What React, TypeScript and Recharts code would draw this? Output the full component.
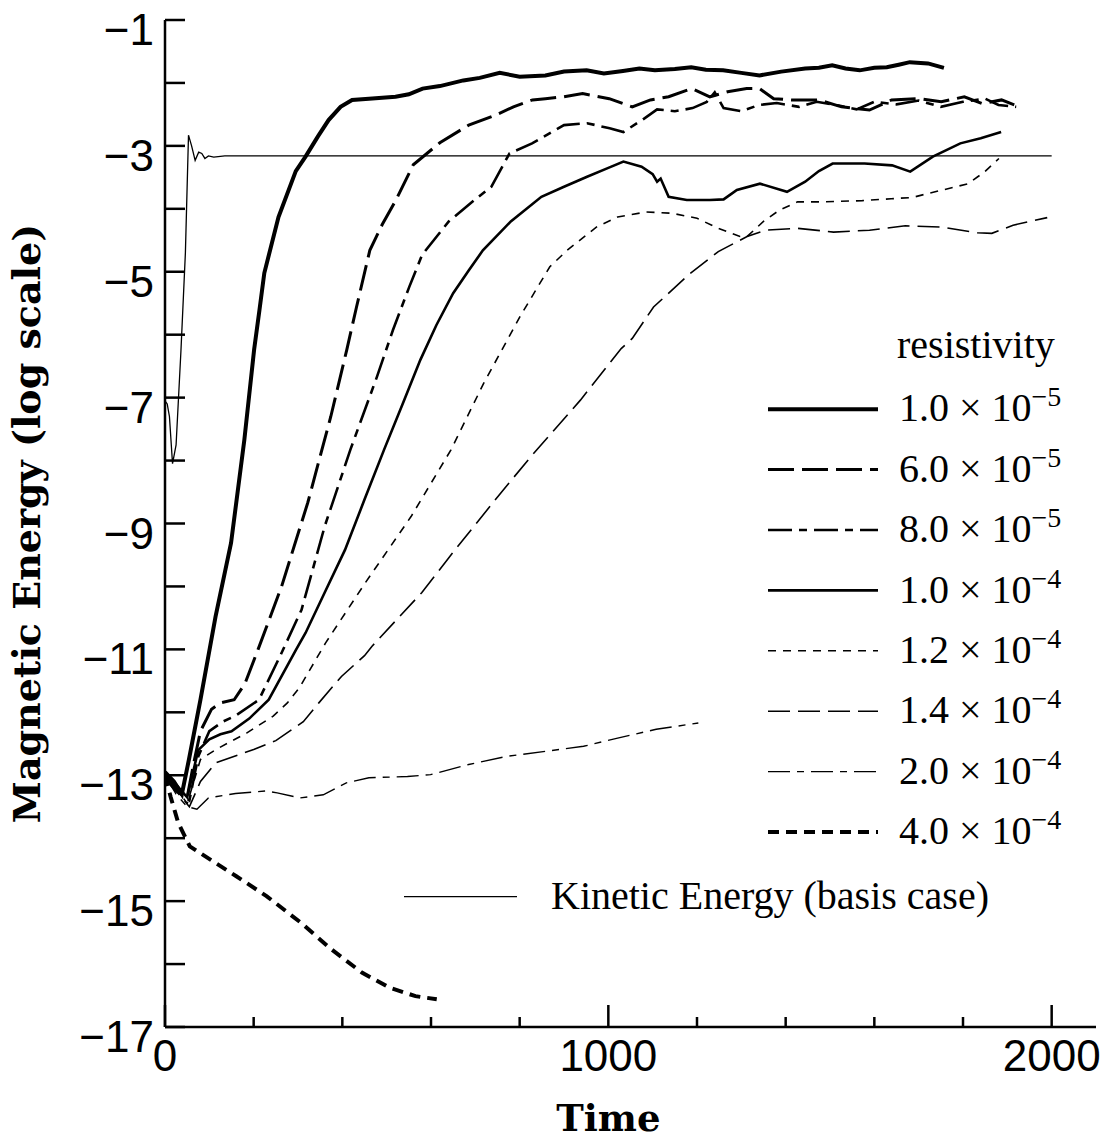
import React from 'react';
import { LineChart, Line, XAxis, YAxis, Legend } from 'recharts';

// ---------- data (time, log10 energy) ----------
const t1 = [0, 20, 38, 54, 80, 114, 149, 179, 201, 213, 224, 256, 295, 317, 345, 369, 396, 422, 460, 520, 550, 581, 620, 673, 710, 755, 800, 858, 900, 951, 990, 1033, 1070, 1105, 1150, 1187, 1220, 1259, 1300, 1341, 1390, 1444, 1475, 1505, 1535, 1567, 1600, 1628, 1655, 1680, 1721, 1757];
const v1 = [-12.95, -13.1, -13.3, -12.75, -11.8, -10.48, -9.31, -7.67, -6.24, -5.61, -5.02, -4.13, -3.4, -3.17, -2.85, -2.59, -2.38, -2.27, -2.25, -2.22, -2.18, -2.09, -2.05, -1.96, -1.92, -1.84, -1.9, -1.88, -1.82, -1.8, -1.85, -1.81, -1.77, -1.8, -1.78, -1.75, -1.79, -1.8, -1.84, -1.88, -1.82, -1.77, -1.76, -1.72, -1.77, -1.8, -1.76, -1.75, -1.71, -1.67, -1.69, -1.76];

const t2 = [0, 25, 50, 65, 80, 105, 125, 156, 180, 210, 263, 322, 374, 410, 432, 462, 490, 521, 560, 620, 685, 746, 786, 829, 858, 899, 942, 1002, 1054, 1095, 1136, 1188, 1229, 1269, 1312, 1341, 1373, 1413, 1475, 1526, 1589, 1639, 1702, 1751, 1803, 1844, 1887, 1916];
const v2 = [-13.0, -13.2, -13.35, -12.8, -12.3, -11.95, -11.85, -11.8, -11.55, -11.0, -10.0, -8.67, -7.3, -6.24, -5.56, -4.66, -4.25, -3.86, -3.3, -2.95, -2.67, -2.51, -2.38, -2.27, -2.25, -2.22, -2.17, -2.25, -2.38, -2.27, -2.22, -2.09, -2.22, -2.14, -2.09, -2.09, -2.25, -2.27, -2.27, -2.38, -2.43, -2.27, -2.25, -2.3, -2.22, -2.33, -2.27, -2.35];

const t3 = [0, 25, 55, 75, 100, 130, 160, 212, 260, 308, 360, 418, 478, 514, 551, 580, 640, 700, 736, 777, 828, 900, 952, 1003, 1034, 1080, 1110, 1150, 1190, 1222, 1240, 1260, 1300, 1340, 1380, 1430, 1470, 1520, 1560, 1600, 1650, 1700, 1750, 1800, 1850, 1880, 1920];
const v3 = [-13.05, -13.25, -13.4, -12.7, -12.3, -12.15, -12.05, -11.8, -11.1, -10.37, -9.05, -7.83, -6.67, -5.93, -5.24, -4.73, -4.2, -3.85, -3.65, -3.12, -2.96, -2.67, -2.64, -2.72, -2.78, -2.57, -2.42, -2.45, -2.4, -2.3, -2.15, -2.4, -2.45, -2.35, -2.32, -2.38, -2.3, -2.36, -2.42, -2.3, -2.34, -2.28, -2.38, -2.3, -2.25, -2.35, -2.38];

const t4 = [0, 25, 50, 75, 100, 125, 150, 190, 234, 296, 317, 360, 406, 450, 494, 536, 576, 612, 650, 685, 717, 780, 849, 900, 952, 1000, 1034, 1075, 1100, 1110, 1118, 1136, 1177, 1229, 1260, 1290, 1342, 1403, 1444, 1475, 1506, 1578, 1640, 1681, 1732, 1794, 1840, 1886];
const v4 = [-12.95, -13.15, -13.35, -12.6, -12.43, -12.35, -12.3, -12.1, -11.8, -11.0, -10.74, -10.1, -9.42, -8.62, -7.83, -7.1, -6.4, -5.85, -5.34, -4.98, -4.66, -4.2, -3.81, -3.65, -3.49, -3.35, -3.25, -3.33, -3.45, -3.57, -3.52, -3.81, -3.86, -3.86, -3.85, -3.7, -3.6, -3.73, -3.57, -3.4, -3.28, -3.28, -3.31, -3.41, -3.17, -2.96, -2.88, -2.78];

const t5 = [0, 25, 50, 80, 115, 184, 244, 276, 304, 362, 451, 555, 645, 719, 801, 868, 907, 973, 1021, 1086, 1143, 1200, 1248, 1297, 1313, 1350, 1386, 1427, 1484, 1573, 1638, 1686, 1719, 1784, 1812, 1849, 1881];
const v5 = [-13.0, -13.2, -13.45, -12.75, -12.59, -12.33, -12.06, -11.85, -11.6, -10.9, -9.95, -8.89, -7.83, -6.77, -5.71, -4.92, -4.66, -4.29, -4.13, -4.05, -4.07, -4.15, -4.31, -4.44, -4.44, -4.2, -4.02, -3.89, -3.89, -3.87, -3.84, -3.82, -3.76, -3.65, -3.6, -3.41, -3.2];

const t6 = [0, 25, 55, 80, 115, 200, 250, 312, 347, 398, 450, 467, 579, 654, 751, 825, 937, 1029, 1054, 1102, 1184, 1248, 1313, 1354, 1427, 1508, 1589, 1670, 1751, 1832, 1865, 1913, 1990];
const v6 = [-13.05, -13.25, -13.5, -13.1, -12.8, -12.59, -12.45, -12.15, -11.85, -11.43, -11.1, -10.95, -10.1, -9.42, -8.57, -7.94, -7.04, -6.22, -6.06, -5.56, -5.03, -4.68, -4.44, -4.34, -4.31, -4.37, -4.34, -4.27, -4.29, -4.38, -4.39, -4.26, -4.14];

const t7 = [0, 25, 50, 72, 98, 159, 228, 253, 305, 357, 409, 460, 547, 599, 685, 771, 858, 944, 1021, 1108, 1203];
const v7 = [-13.0, -13.3, -13.5, -13.54, -13.36, -13.29, -13.25, -13.28, -13.36, -13.31, -13.12, -13.04, -13.02, -12.99, -12.83, -12.7, -12.62, -12.54, -12.41, -12.27, -12.17];

const t8 = [0, 13, 30, 56, 91, 160, 229, 306, 376, 445, 505, 565, 613];
const v8 = [-13.0, -13.35, -13.76, -14.13, -14.29, -14.6, -14.92, -15.34, -15.77, -16.14, -16.37, -16.51, -16.56];

const tKE = [0, 5, 10, 17, 25, 36, 46, 53, 60, 68, 76, 83, 90, 98, 110, 135, 2000];
const vKE = [-7.05, -7.1, -7.3, -8.05, -7.75, -6.25, -4.7, -2.83, -3.0, -3.23, -3.1, -3.12, -3.2, -3.16, -3.18, -3.16, -3.16];

const resistivityLabels = [
  ['1.0', '5'], ['6.0', '5'], ['8.0', '5'], ['1.0', '4'],
  ['1.2', '4'], ['1.4', '4'], ['2.0', '4'], ['4.0', '4'],
];
const xTicks = [0, 200, 400, 600, 800, 1000, 1200, 1400, 1600, 1800, 2000];
const yTicks = [-17, -16, -15, -14, -13, -12, -11, -10, -9, -8, -7, -6, -5, -4, -3, -2, -1];

// ---------- styling ----------
const zip = (t: number[], v: number[]) => t.map((x, i) => ({ t: x, v: v[i] }));
const seriesT = [t1, t2, t3, t4, t5, t6, t7, t8];
const seriesV = [v1, v2, v3, v4, v5, v6, v7, v8];
const styles = [
  { w: 4, dash: undefined as string | undefined },
  { w: 3, dash: '26 8' },
  { w: 2.6, dash: '24 7 8 7' },
  { w: 2.6, dash: undefined },
  { w: 1.6, dash: '8 7' },
  { w: 1.6, dash: '22 8' },
  { w: 1.4, dash: '22 7 7 7' },
  { w: 4, dash: '11 7' },
];

const W = 1114;
const H = 1141;
const SANS = '"Liberation Sans", Arial, Helvetica, sans-serif';
const SERIF = '"Liberation Serif", "Times New Roman", serif';
const BOLDSERIF = '"DejaVu Serif", serif';

const YTick = (props: any) => {
  const { x, y, payload } = props;
  const v = payload.value as number;
  const odd = Math.abs(v) % 2 === 1;
  return (
    <g>
      <line x1={x} y1={y} x2={x + 20} y2={y} stroke="#000" strokeWidth={2.5} />
      {odd && (
        <text x={x - 11} y={y + 25} textAnchor="end" fontFamily={SANS} fontSize={44} fill="#000">
          {'\u2212' + Math.abs(v)}
        </text>
      )}
    </g>
  );
};

const XTickBottom = (props: any) => {
  const { x, y, payload } = props;
  const v = payload.value as number;
  const major = v % 1000 === 0;
  return (
    <g>
      <line x1={x} y1={y} x2={x} y2={y - (major ? 22 : 10)} stroke="#000" strokeWidth={2.5} />
      {major && (
        <text x={x} y={y + 44} textAnchor="middle" fontFamily={SANS} fontSize={44} fill="#000">
          {v}
        </text>
      )}
    </g>
  );
};

const XTickTop = (props: any) => {
  const { x, y, payload } = props;
  const v = payload.value as number;
  const major = v % 1000 === 0;
  return <line x1={x} y1={y} x2={x} y2={y + (major ? 22 : 10)} stroke="#000" strokeWidth={2.5} />;
};

const LegendBox = () => (
  <svg width={W} height={H} style={{ position: 'absolute', left: 0, top: 0, pointerEvents: 'none' }}>
    <text x={897} y={358} fontFamily={SERIF} fontSize={40} fill="#000">resistivity</text>
    {resistivityLabels.map((lab, i) => {
      const ly = 409.2 + 60.4 * i;
      const by = 421.4 + 60.4 * i;
      const s = styles[i];
      return (
        <g key={i}>
          <line x1={768} x2={878} y1={ly} y2={ly} stroke="#000" strokeWidth={s.w} strokeDasharray={s.dash} />
          <text x={899} y={by} fontFamily={SERIF} fontSize={40} fill="#000">
            {lab[0] + ' \u00d7 10'}
            <tspan dy={-15} fontSize={28}>{'\u2212' + lab[1]}</tspan>
          </text>
        </g>
      );
    })}
    <line x1={404} x2={517} y1={896.7} y2={896.7} stroke="#000" strokeWidth={1.3} />
    <text x={551} y={908.5} fontFamily={SERIF} fontSize={40} fill="#000">Kinetic Energy (basis case)</text>
  </svg>
);

export default function App() {
  return (
    <div style={{ width: W, height: H, background: '#fff', marginTop: -8, marginLeft: -8 }}>
      <LineChart width={W} height={H} margin={{ top: 20, right: 18, left: 0, bottom: 0 }}>
        <XAxis
          dataKey="t"
          type="number"
          domain={[0, 2100]}
          ticks={xTicks}
          interval={0}
          allowDataOverflow
          height={114}
          tickSize={0}
          tickMargin={0}
          tick={<XTickBottom />}
          axisLine={{ stroke: '#000', strokeWidth: 2.5 }}
          label={{
            content: (p: any) => {
              const vb = p.viewBox;
              return (
                <text x={vb.x + vb.width * (1000 / 2100)} y={vb.y + 104} textAnchor="middle" fontFamily={BOLDSERIF} fontWeight="bold" fontSize={37} fill="#000">
                  Time
                </text>
              );
            },
          }}
        />
        <XAxis
          xAxisId="top"
          orientation="top"
          dataKey="t"
          type="number"
          domain={[0, 2100]}
          ticks={xTicks}
          interval={0}
          height={0}
          tickSize={0}
          tickMargin={0}
          tick={<XTickTop />}
          axisLine={{ stroke: '#000', strokeWidth: 2.5 }}
        />
        <YAxis
          type="number"
          domain={[-17, -1]}
          ticks={yTicks}
          interval={0}
          width={165}
          tickSize={0}
          tickMargin={0}
          tick={<YTick />}
          axisLine={{ stroke: '#000', strokeWidth: 2.5 }}
          label={{
            content: (p: any) => {
              const vb = p.viewBox;
              const cx = 30;
              const cy = vb.y + vb.height / 2;
              return (
                <text x={cx} y={cy} transform={`rotate(-90 ${cx} ${cy})`} textAnchor="middle" dominantBaseline="middle" fontFamily={BOLDSERIF} fontWeight="bold" fontSize={38} fill="#000">
                  Magnetic Energy (log scale)
                </text>
              );
            },
          }}
        />
        <YAxis
          yAxisId="right"
          orientation="right"
          type="number"
          domain={[-17, -1]}
          width={0}
          tick={false}
          tickLine={false}
          axisLine={{ stroke: '#000', strokeWidth: 2.5 }}
        />
        <Legend layout="vertical" align="center" verticalAlign="middle" content={() => <LegendBox />} wrapperStyle={{ left: 0, top: 0, width: W, height: H }} />
        <Line data={zip(tKE, vKE)} dataKey="v" stroke="#000" strokeWidth={1.3} dot={false} isAnimationActive={false} type="linear" />
        {seriesT.map((t, i) => (
          <Line
            key={i}
            data={zip(t, seriesV[i])}
            dataKey="v"
            stroke="#000"
            strokeWidth={styles[i].w}
            strokeDasharray={styles[i].dash}
            dot={false}
            isAnimationActive={false}
            type="linear"
          />
        ))}
      </LineChart>
    </div>
  );
}
